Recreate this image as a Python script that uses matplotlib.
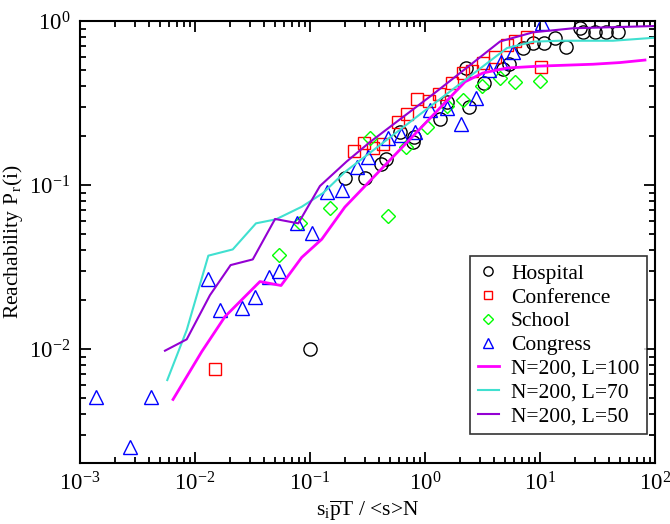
import matplotlib
matplotlib.use("Agg")
import matplotlib.pyplot as plt
from matplotlib.ticker import LogLocator, NullFormatter

plt.rcParams['font.family'] = ['Liberation Serif', 'DejaVu Serif']
plt.rcParams['mathtext.fontset'] = 'custom'
plt.rcParams['mathtext.rm'] = 'Liberation Serif'
plt.rcParams['mathtext.it'] = 'Liberation Serif:italic'
plt.rcParams['mathtext.default'] = 'regular'
plt.rcParams['axes.unicode_minus'] = False

# ---- data ----
hosp_x = [0.100, 0.201, 0.301, 0.414, 0.458, 0.607, 0.787, 0.802, 1.35, 1.55, 2.41, 3.26,
          2.27, 4.77, 5.37, 7.11, 8.69, 10.8, 13.5, 16.8, 22.3, 23.7, 30.1, 37.5, 47.7]
hosp_y = [0.0100, 0.111, 0.110, 0.134, 0.144, 0.211, 0.183, 0.196, 0.253, 0.321, 0.299, 0.419,
          0.517, 0.510, 0.547, 0.684, 0.734, 0.738, 0.788, 0.697, 0.906, 0.861, 0.857, 0.857, 0.853]

conf_x = [0.0149, 0.242, 0.295, 0.353, 0.432, 0.582, 0.697, 0.851, 1.08, 1.32, 1.72, 2.14,
          2.56, 3.19, 4.06, 5.16, 6.06, 7.71, 10.2]
conf_y = [0.00755, 0.161, 0.180, 0.168, 0.178, 0.242, 0.271, 0.335, 0.325, 0.359, 0.419, 0.482,
          0.496, 0.558, 0.603, 0.714, 0.755, 0.799, 0.524]

school_x = [0.0537, 0.0818, 0.149, 0.333, 0.477, 0.684, 1.04, 1.55, 2.12, 3.13, 4.49, 6.06, 10.0]
school_y = [0.0374, 0.0587, 0.0724, 0.194, 0.0647, 0.171, 0.226, 0.303, 0.332, 0.401, 0.447, 0.425, 0.431]

cong_x = [0.00138, 0.00272, 0.00414, 0.0130, 0.0165, 0.0257, 0.0333, 0.0440, 0.0537, 0.0771,
          0.104, 0.141, 0.190, 0.257, 0.319, 0.477, 0.618, 0.811, 1.10, 1.55, 2.06, 2.77,
          3.60, 4.58, 5.82, 10.35]
cong_y = [0.00510, 0.00253, 0.00510, 0.0267, 0.0173, 0.0178, 0.0208, 0.0275, 0.0299, 0.0587,
          0.0510, 0.0913, 0.0932, 0.129, 0.148, 0.194, 0.202, 0.211, 0.285, 0.295, 0.236, 0.338,
          0.503, 0.562, 0.647, 0.968]

l100_x = [0.00644, 0.01143, 0.01824, 0.0367, 0.0560, 0.0847, 0.1265, 0.201, 2.23, 3.19, 5.16,
          10.0, 28.9, 49.6, 81.8]
l100_y = [0.00493, 0.00963, 0.01578, 0.0258, 0.0244, 0.0362, 0.0467, 0.0734, 0.426, 0.482, 0.517,
          0.531, 0.545, 0.558, 0.578]

l70_x = [0.00574, 0.00847, 0.01306, 0.0213, 0.0339, 0.0506, 0.0847, 0.130, 0.201, 0.906, 5.16,
         8.69, 14.9, 43.1, 100.0]
l70_y = [0.00647, 0.01305, 0.0371, 0.0405, 0.0584, 0.0618, 0.0737, 0.0894, 0.120, 0.270, 0.684,
         0.748, 0.758, 0.758, 0.791]

l50_x = [0.00548, 0.00847, 0.01349, 0.0204, 0.0318, 0.0497, 0.0791, 0.122, 0.208, 0.333, 1.22,
         4.49, 8.69, 19.4, 100.0]
l50_y = [0.00977, 0.01146, 0.0213, 0.0325, 0.0352, 0.0621, 0.0584, 0.0986, 0.139, 0.183, 0.365,
         0.750, 0.853, 0.903, 0.932]

labels = ["Hospital", "Conference", "School", "Congress",
          "N=200, L=100", "N=200, L=70", "N=200, L=50"]

# ---- figure ----
fig = plt.figure(figsize=(6.70, 5.24), dpi=100)
ax = fig.add_axes([80/670, 1-463/524, 575/670, 442/524])

ms = 9.5
ax.plot(hosp_x, hosp_y, linestyle='none', marker='o', ms=ms, mfc='none', mec='black', mew=1.0, label=labels[0])
ax.plot(conf_x, conf_y, linestyle='none', marker='s', ms=ms-0.5, mfc='none', mec='red', mew=1.0, label=labels[1])
ax.plot(school_x, school_y, linestyle='none', marker='D', ms=ms-2.5, mfc='none', mec='#00ff00', mew=1.0, label=labels[2])
ax.plot(cong_x, cong_y, linestyle='none', marker='^', ms=ms, mfc='none', mec='blue', mew=1.0, label=labels[3])
ax.plot(l100_x, l100_y, color='#ff00ff', lw=2.0, label=labels[4])
ax.plot(l70_x, l70_y, color='#40e0d0', lw=1.5, label=labels[5])
ax.plot(l50_x, l50_y, color='#9400d3', lw=1.5, label=labels[6])

ax.set_xscale('log')
ax.set_yscale('log')
ax.set_xlim(1e-3, 1e2)
ax.set_ylim(2.02e-3, 1.0)

ax.xaxis.set_major_locator(LogLocator(base=10, numticks=10))
ax.yaxis.set_major_locator(LogLocator(base=10, numticks=10))
ax.xaxis.set_minor_locator(LogLocator(base=10, subs=range(2, 10), numticks=10))
ax.yaxis.set_minor_locator(LogLocator(base=10, subs=range(2, 10), numticks=10))
ax.xaxis.set_minor_formatter(NullFormatter())
ax.yaxis.set_minor_formatter(NullFormatter())

ax.tick_params(which='both', direction='in', top=True, right=True, width=1.3)
ax.tick_params(which='major', length=8, labelsize=16.5, pad=7)
ax.tick_params(which='minor', length=4)
for s in ax.spines.values():
    s.set_linewidth(1.5)

ax.set_xlabel(r"s$_\mathregular{i}$$\mathregular{\overline{p}}$T / <s>N", fontsize=15.5, labelpad=2)
ax.set_ylabel(r"Reachability P$_{\mathregular{\,r}}$(i)", fontsize=15.5, labelpad=3)

leg = ax.legend(loc='lower right', bbox_to_anchor=(0.986, 0.066), borderaxespad=0,
                fontsize=15.5, frameon=True, fancybox=False, markerscale=0.7,
                handlelength=1.0, handletextpad=0.55, labelspacing=0.17, borderpad=0.35)
leg.get_frame().set_edgecolor('black')
leg.get_frame().set_linewidth(1.2)

fig.savefig("out.png", dpi=100)
